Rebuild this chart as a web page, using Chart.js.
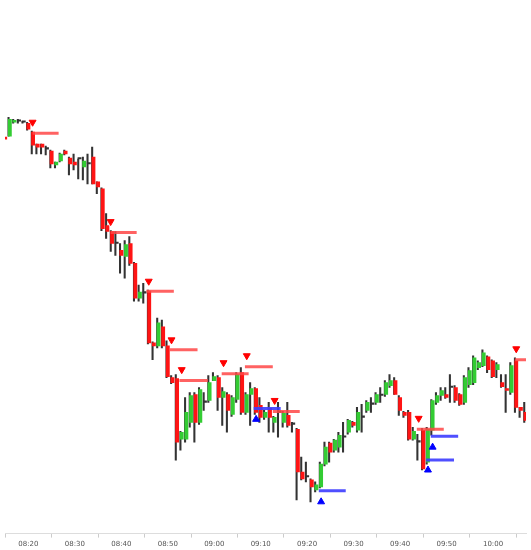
<!DOCTYPE html>
<html lang="en">
<head>
  <meta charset="UTF-8" />
  <title>Intraday Candles</title>
  <script src="https://cdn.jsdelivr.net/npm/chart.js"></script>
  <style>
    html, body { margin: 0; padding: 0; background: #fff; }
    #wrap { width: 531px; height: 550px; }
  </style>
</head>
<body>
  <div id="wrap"><canvas id="candles"></canvas></div>
  <script>
    // minutes after 08:00, one candle per minute
    const minutes = [14,15,16,17,18,19,20,21,22,23,24,25,26,27,28,29,30,31,32,33,34,35,36,37,38,39,40,41,42,43,44,45,46,47,48,49,50,51,52,53,54,55,56,57,58,59,60,61,62,63,64,65,66,67,68,69,70,71,72,73,74,75,76,77,78,79,80,81,82,83,84,85,86,87,88,89,90,91,92,93,94,95,96,97,98,99,100,101,102,103,104,105,106,107,108,109,110,111,112,113,114,115,116,117,118,119,120,121,122,123,124,125,126,127,128];
    const opens  = [417,417,418,432,433,432,431,422,410,410,405,403,389,393,403,396,392,395,387,390,397,372,365,328,322,310,303,297,310,290,255,260,262,210,207,226,207,175,174,113,113,130,158,130,150,152,172,175,155,158,138,153,180,140,158,164,147,135,144,130,140,130,137,128,123,80,75,72,62,65,88,109,102,105,115,120,130,122,135,142,148,150,157,158,167,172,155,140,140,113,110,122,90,122,150,157,158,165,165,158,150,168,170,185,187,196,192,183,170,164,160,192,145,140,132];
    const highs  = [419,419,437,435,435,433,432,423,410,410,408,404,392,401,404,397,400,395,397,400,407,372,366,340,323,322,310,313,317,291,268,270,263,211,235,233,212,177,178,121,155,160,160,165,160,177,180,177,165,160,157,180,185,160,170,165,155,142,150,136,150,141,150,130,124,95,90,73,70,90,110,110,113,120,130,133,131,145,148,152,155,160,165,172,178,175,157,141,142,125,118,124,125,153,160,165,165,178,167,159,177,185,197,192,203,197,193,190,178,178,190,195,145,150,133];
    const lows   = [413,410,418,431,431,431,424,400,400,400,399,386,386,392,399,379,384,375,374,370,370,360,323,315,302,298,280,275,288,252,252,250,209,193,205,205,175,169,92,102,110,125,110,128,142,150,172,142,127,120,136,150,138,138,127,138,130,133,120,120,115,125,125,120,52,72,70,50,60,64,86,90,100,100,100,118,125,120,120,140,140,148,150,156,165,158,137,135,112,112,92,82,88,117,148,152,154,150,150,147,148,165,168,183,186,180,175,175,165,140,158,140,135,130,112];
    const closes = [415,415,435,434,433,432,425,409,407,407,405,390,392,400,400,390,389,395,393,390,370,367,325,322,310,310,298,309,290,255,261,260,210,207,230,207,176,170,110,120,140,157,130,163,150,170,176,155,161,142,155,178,140,158,164,140,135,140,135,135,140,139,127,128,80,73,75,65,67,88,105,100,112,117,115,132,127,140,135,150,148,158,157,170,172,158,142,137,113,121,110,83,123,152,157,162,155,165,152,148,175,182,195,190,200,183,176,188,166,162,187,145,142,132,115];

    // sell signals: arrow minute, arrow level, level line from..to
    const sellArrowMin = [20.9,37.7,45.9,50.8,53,62,67,73,104,125];
    const sellArrowVal = [432,332,272,213,183,190,197,152,134,204];
    const sellLineFrom = [20.9,37.7,45.4,50.4,52.5,61.6,66.6,72.6,103.6,124.7];
    const sellLineTo   = [26.5,43.3,51.3,56.4,58.6,67.4,72.6,78.4,109.4,128.4];
    const sellLineVal  = [421,321,262,203,172,179,186,141,123,193];

    // buy signals
    const buyArrowMin = [69,83,107,106];
    const buyArrowVal = [133,50,105,82];
    const buyLineFrom = [68.5,82.5,106.6,105.6];
    const buyLineTo   = [74.3,88.3,112.5,111.6];
    const buyLineVal  = [144,61,116,92];

    const xMin = 14.96, xMax = 127.1;
    const lastTick = 120;

    const bodyData = minutes.map((m, i) => ({ x: m, y: [opens[i], closes[i]] }));
    const wickData = minutes.map((m, i) => ({ x: m - 0.28, y: [lows[i], highs[i]] }));
    const bodyColors = minutes.map((m, i) =>
      closes[i] > opens[i] ? '#33cc33' : (closes[i] < opens[i] ? '#ff1414' : '#333333'));

    function segments(from, to, val) {
      const pts = [];
      from.forEach((f, i) => {
        pts.push({ x: f, y: val[i] });
        pts.push({ x: to[i], y: val[i] });
        pts.push({ x: to[i] + 0.01, y: null });
      });
      return pts;
    }

    function fmt(v) {
      if (v > lastTick || v % 10 !== 0) return null;
      const h = 8 + Math.floor(v / 60);
      const mm = Math.round(v % 60);
      return String(h).padStart(2, '0') + ':' + String(mm).padStart(2, '0');
    }

    new Chart(document.getElementById('candles'), {
      data: {
        datasets: [
          {
            type: 'bar', data: wickData, backgroundColor: '#333333',
            barThickness: 1.4, grouped: false, order: 3
          },
          {
            type: 'bar', data: bodyData, backgroundColor: bodyColors,
            barThickness: 3.2, grouped: false, minBarLength: 1.5, order: 2
          },
          {
            type: 'line', data: segments(sellLineFrom, sellLineTo, sellLineVal),
            borderColor: 'rgba(255,70,70,0.85)', borderWidth: 3, pointRadius: 0,
            spanGaps: false, order: 1
          },
          {
            type: 'line', data: segments(buyLineFrom, buyLineTo, buyLineVal),
            borderColor: 'rgba(60,60,255,0.9)', borderWidth: 3, pointRadius: 0,
            spanGaps: false, order: 1
          },
          {
            type: 'scatter', data: sellArrowMin.map((m, i) => ({ x: m, y: sellArrowVal[i] })),
            pointStyle: 'triangle', rotation: 180, pointRadius: 4,
            backgroundColor: '#ff0000', borderColor: '#ff0000', order: 0
          },
          {
            type: 'scatter', data: buyArrowMin.map((m, i) => ({ x: m, y: buyArrowVal[i] })),
            pointStyle: 'triangle', pointRadius: 4,
            backgroundColor: '#0000ff', borderColor: '#0000ff', order: 0
          }
        ]
      },
      options: {
        responsive: true,
        maintainAspectRatio: false,
        animation: false,
        layout: { padding: 0 },
        plugins: { legend: { display: false }, tooltip: { enabled: false } },
        scales: {
          x: {
            type: 'linear', min: xMin, max: xMax, offset: false,
            afterBuildTicks: axis => {
              const t = [];
              for (let v = 20; v <= lastTick; v += 10) t.push({ value: v });
              axis.ticks = t;
            },
            ticks: {
              callback: v => fmt(v), color: '#555', maxRotation: 0, autoSkip: false,
              font: { family: 'DejaVu Sans', size: 7 }, padding: 2
            },
            grid: { drawOnChartArea: false, tickLength: 4, color: '#ccc' },
            border: { color: '#ddd' }
          },
          y: {
            display: false, min: 18, max: 550
          }
        }
      }
    });
  </script>
</body>
</html>
